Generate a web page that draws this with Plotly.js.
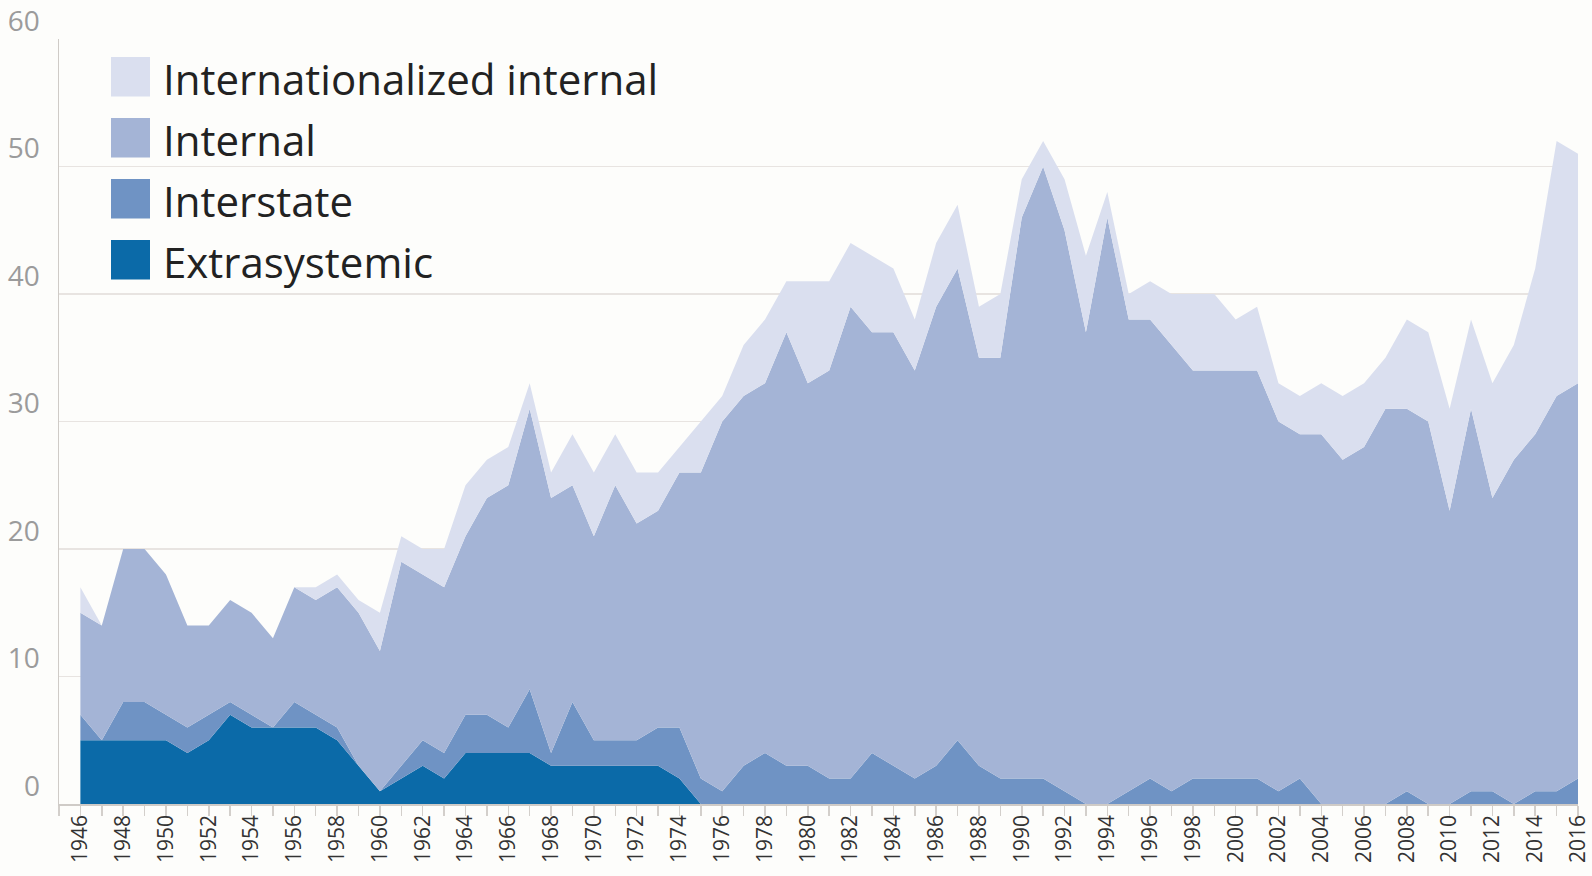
<!DOCTYPE html>
<html>
<head>
<meta charset="utf-8">
<script src="https://cdn.plot.ly/plotly-3.0.1.min.js"></script>
<style>
  html, body { margin: 0; padding: 0; background: #fdfdfb; }
  #chart { width: 1592px; height: 876px; }
</style>
</head>
<body>
<div id="chart"></div>
<script>
// Years 1946–2016
const years = [];
for (let y = 1946; y <= 2016; y++) years.push(y);

// Number of conflicts by type (per year, non-cumulative)
const extrasystemic = [5,5,5,5,5,4,5,7,6,6, 6,6,5,3,1,2,3,2,4,4, 4,4,3,3,3,3,3,3,2,0, 0,0,0,0,0,0,0,0,0,0, 0,0,0,0,0,0,0,0,0,0, 0,0,0,0,0,0,0,0,0,0, 0,0,0,0,0,0,0,0,0,0, 0];
const interstate = [2,0,3,3,2,2,2,1,1,0, 2,1,1,0,0,1,2,2,3,3, 2,5,1,5,2,2,2,3,4,2, 1,3,4,3,3,2,2,4,3,2, 3,5,3,2,2,2,1,0,0,1, 2,1,2,2,2,2,1,2,0,0, 0,0,1,0,0,1,1,0,1,1, 2];
const internal = [8,9,12,12,11,8,7,8,8,7, 9,9,11,12,11,16,13,13,14,17, 19,22,20,17,16,20,17,17,20,24, 29,29,29,34,30,32,37,33,34,32, 36,37,32,33,44,48,44,37,46,37, 36,35,32,32,32,32,29,27,29,27, 28,31,30,30,23,30,23,27,28,31, 31];
const internationalized = [2,0,0,0,0,0,0,0,0,0, 0,1,1,1,3,2,2,3,4,3, 3,2,2,4,5,4,4,3,2,4, 2,4,5,4,8,7,5,6,5,4, 5,5,4,5,3,2,4,6,2,2, 3,4,6,6,4,5,3,3,4,5, 5,4,7,7,8,7,9,9,13,20, 18];

const seriesNames = ["Extrasystemic", "Interstate", "Internal", "Internationalized internal"];
const seriesColors = ["#0b6aa8", "#6f93c4", "#a4b4d6", "#dadfef"];
const seriesData = [extrasystemic, interstate, internal, internationalized];

const traces = seriesData.map((vals, i) => ({
  type: "scatter",
  mode: "lines",
  x: years,
  y: vals,
  name: seriesNames[i],
  stackgroup: "conflicts",
  line: { width: 0, color: seriesColors[i] },
  fillcolor: seriesColors[i],
  showlegend: false,
  hoverinfo: "x+y+name"
}));

// Manual legend (large squares + labels), top to bottom
const legendOrder = [3, 2, 1, 0];
const shapes = [];
const annotations = [];
const plotL = 59, plotR = 14, plotT = 39, plotH = 765;
const plotW = 1592 - plotL - plotR;
const px2x = p => (p - plotL) / plotW;
const py2y = p => 1 - (p - plotT) / plotH;
legendOrder.forEach((si, k) => {
  const cy = 77 + k * 61;
  shapes.push({
    type: "rect", xref: "paper", yref: "paper",
    x0: px2x(111), x1: px2x(150), y0: py2y(cy - 20), y1: py2y(cy + 19.5),
    fillcolor: seriesColors[si], line: { width: 0 }, layer: "above"
  });
  annotations.push({
    xref: "paper", yref: "paper", x: px2x(161), y: py2y(cy + 1),
    xanchor: "left", yanchor: "middle", showarrow: false,
    text: seriesNames[si],
    font: { family: "Open Sans, sans-serif", size: 42, color: "#222222" }
  });
});

const layout = {
  width: 1592, height: 876,
  margin: { l: plotL, r: plotR, t: plotT, b: 876 - plotT - plotH },
  paper_bgcolor: "#fdfdfb",
  plot_bgcolor: "#fdfdfb",
  showlegend: false,
  xaxis: {
    range: [1945, 2016.0001],
    tickmode: "linear", tick0: 1946, dtick: 2,
    tickangle: -90,
    ticklabeloverflow: "allow",
    ticks: "outside", ticklen: 10, tickwidth: 1.5, tickcolor: "#d3cfcb",
    minor: { dtick: 1, tick0: 1945, ticks: "outside", ticklen: 10, tickwidth: 1.5, tickcolor: "#d3cfcb", showgrid: false },
    showgrid: false, zeroline: false,
    showline: true, linecolor: "#cfcbc7", linewidth: 1.5,
    ticklabelstandoff: -9,
    tickfont: { family: "Open Sans, sans-serif", size: 21, color: "#333333" },
    fixedrange: true
  },
  yaxis: {
    range: [0, 60],
    tickmode: "linear", tick0: 0, dtick: 10,
    ticks: "",
    showgrid: true, gridcolor: "#e8e4e1", gridwidth: 1.5,
    zeroline: false,
    showline: true, linecolor: "#cfcbc7", linewidth: 1.5,
    ticklabelshift: -18, ticklabelstandoff: 12,
    tickfont: { family: "Open Sans, sans-serif", size: 28, color: "#9b9b9b" },
    fixedrange: true
  },
  shapes: shapes,
  annotations: annotations
};

Plotly.newPlot("chart", traces, layout, { displayModeBar: false, staticPlot: true });
</script>
</body>
</html>
